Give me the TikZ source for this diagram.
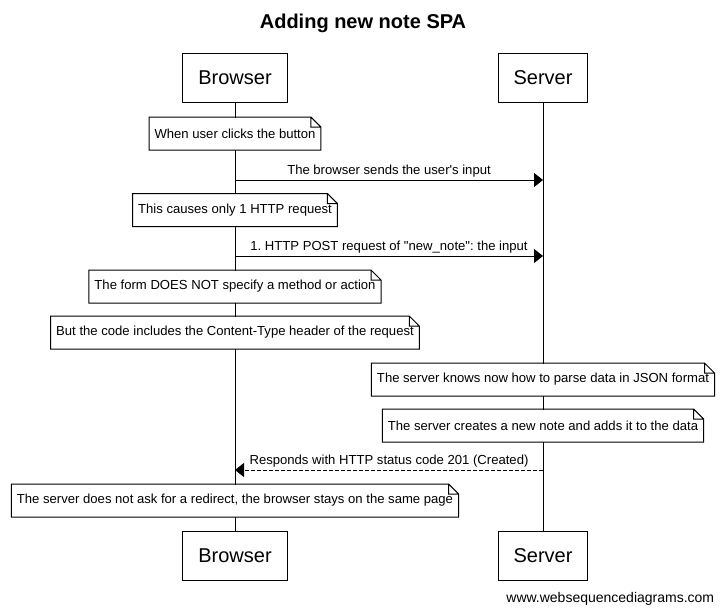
\documentclass[tikz,border=0pt]{standalone}
\usepackage{fontspec}
\setmainfont{Liberation Sans}
\usepackage{tikz}
\usetikzlibrary{shapes.geometric, arrows.meta}
\frenchspacing
\tikzstyle{actor} = [rectangle, minimum height=49pt, inner xsep=15.5pt, text centered, draw=black, fill=white, font=\fontsize{20}{24}\selectfont]
\tikzstyle{note} = [rectangle, minimum height=32pt, inner xsep=5pt, text centered, fill=white, font=\fontsize{13.1}{15}\selectfont]
\tikzstyle{msg} = [above, inner sep=2pt, font=\fontsize{13.1}{15}\selectfont]
\tikzstyle{arrow} = [-{Triangle[length=9pt,width=14pt]}]
\tikzset{
  reply/.style={arrow, dash pattern=on 4pt off 2pt},
  title/.style={font=\fontsize{20}{24}\selectfont\bfseries},
}

\begin{document}
\begin{tikzpicture}[x=1pt, y=-1pt, line width=1pt]
\useasboundingbox (0,0) rectangle (726,614);
\node (title) [title] at (363,23) {Adding new note SPA};

\node (browser) [actor] at (235,77.5) {Browser};
\node (server) [actor] at (543,77.5) {Server};
\node (browser2) [actor] at (235,555.5) {Browser};
\node (server2) [actor] at (543,555.5) {Server};

% lifelines
\draw (browser.south) -- (browser2.north);
\draw (server.south) -- (server2.north);

\node (note1) [note] at (235,133.5) {When user clicks the button};
\node (note2) [note] at (235,210) {This causes only 1 HTTP request};
\node (note3) [note] at (235,286.5) {The form DOES NOT specify a method or action};
\node (note4) [note] at (235,332.5) {But the code includes the Content-Type header of the request};
\node (note5) [note] at (543,379.5) {The server knows now how to parse data in JSON format};
\node (note6) [note] at (543,425.5) {The server creates a new note and adds it to the data};
\node (note7) [note] at (235,500.5) {The server does not ask for a redirect, the browser stays on the same page};

\foreach \i in {1,...,7}
  \draw (note\i.south west) -- (note\i.south east) -- ([yshift=-10pt]note\i.north east)
        -- ([xshift=-10pt]note\i.north east) -- (note\i.north west) -- cycle
        ([xshift=-10pt]note\i.north east) |- ([yshift=-10pt]note\i.north east);

\coordinate (b1) at (235,180);
\coordinate (s1) at (543,180);
\coordinate (b2) at (235,256);
\coordinate (s2) at (543,256);
\coordinate (b3) at (235,470);
\coordinate (s3) at (543,470);

\draw [arrow] (b1) -- node[msg] {The browser sends the user\textquotesingle s input} (s1);
\draw [arrow] (b2) -- node[msg] {1. HTTP POST request of \textquotedbl new\_note\textquotedbl: the input} (s2);
\draw [reply] (s3) -- node[msg] {Responds with HTTP status code 201 (Created)} (b3);

\node (footer) [anchor=east, font=\fontsize{14}{16}\selectfont] at (718,599) {www.websequencediagrams.com};
\end{tikzpicture}
\end{document}
